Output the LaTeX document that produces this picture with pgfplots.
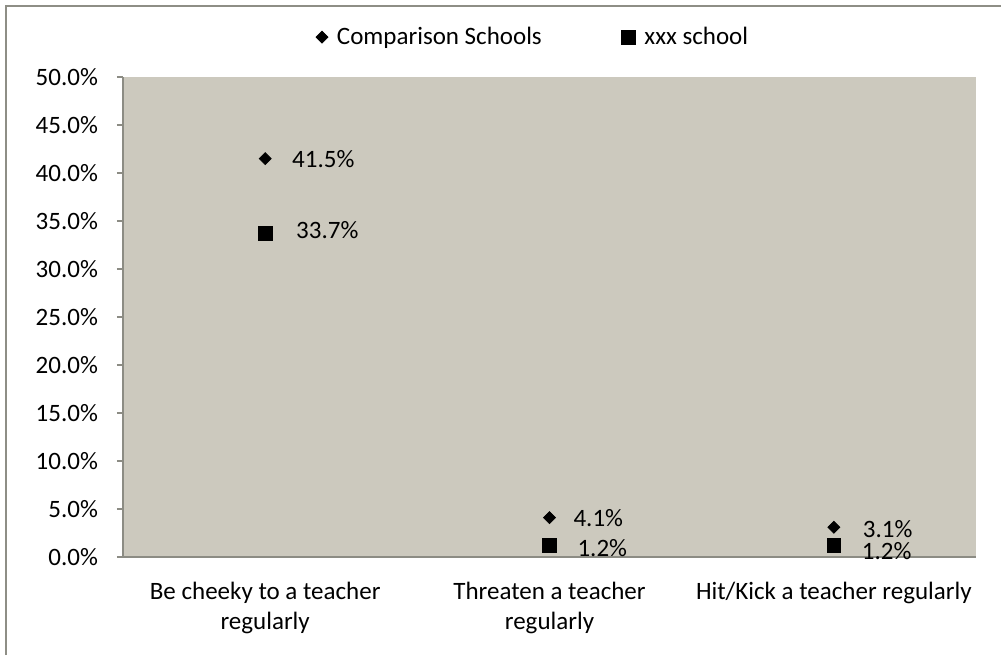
\documentclass[border=0pt]{standalone}
\usepackage{fontspec}
\setmainfont{Carlito}
\usepackage{pgfplots}
\usepackage{pgfplotstable}
\pgfplotsset{compat=1.18}
\definecolor{plotbg}{HTML}{CCC9BE}
\definecolor{axisgray}{HTML}{8C8C84}
\definecolor{bordergray}{HTML}{8E8E86}
\pgfplotstableread{
x y label dy dx
0 41.5 41.5\% 0 10
1 4.1 4.1\% 0 8.5
2 3.1 3.1\% -1 11
}\comparison
\pgfplotstableread{
x y label dy dx
0 33.7 33.7\% 1.5 12
1 1.2 1.2\% -1.5 10.5
2 1.2 1.2\% -3 10.5
}\xxxschool
\begin{document}
\begin{tikzpicture}[font=\fontsize{12.5}{15}\selectfont]
\path[use as bounding box] (-61.5pt,-49pt) rectangle (439pt,278.5pt);
\draw[bordergray, line width=1pt] (-58.5pt,-49pt) -- (-58.5pt,275.5pt) -- (439pt,275.5pt);
\begin{axis}[
  at={(0pt,0pt)}, anchor=south west,
  scale only axis, width=426.5pt, height=240pt,
  xmin=-0.5, xmax=2.5, ymin=0, ymax=50,
  clip=false,
  axis background/.style={fill=plotbg},
  axis x line*=bottom, axis y line*=left,
  axis line style={draw=axisgray, line width=0.6pt, -},
  ytick={0,5,...,50},
  yticklabel={\pgfmathprintnumber[fixed,fixed zerofill,precision=1]{\tick}\%},
  /pgf/number format/assume math mode=true,
  tick align=outside,
  major tick length=3pt,
  tick style={draw=axisgray, line width=0.6pt},
  y tick label style={xshift=-6pt},
  xtick={0,1,2},
  x tick style={draw=none},
  xticklabels={{Be cheeky to a teacher\\regularly},{Threaten a teacher\\regularly},{Hit/Kick a teacher regularly}},
  x tick label style={align=center, yshift=-6pt},
  extra x ticks={-0.5,0.5,1.5,2.5},
  extra x tick labels={},
  extra x tick style={tick style={draw=axisgray, line width=0.6pt}, major tick length=4pt},
  legend style={at={(0.482,1.083)}, anchor=center, draw=none, fill=none,
    legend columns=2,
    /tikz/every odd column/.append style={column sep=2.5pt},
    /tikz/every even column/.append style={column sep=38pt},
    font=\fontsize{12.5}{15}\selectfont},
]
\addplot[only marks, mark=square*, mark size=2.1pt, mark options={rotate=45}, black,
  nodes near coords, point meta=explicit symbolic,
  visualization depends on=\thisrow{dy} \as \labeldy,
  visualization depends on=\thisrow{dx} \as \labeldx,
  nodes near coords style={anchor=west, xshift=\labeldx pt, yshift=\labeldy pt, font=\fontsize{12.5}{15}\selectfont}]
  table[x=x, y=y, meta=label] {\comparison};
\addlegendentry{Comparison Schools}
\addplot[only marks, mark=square*, mark size=3.4pt, black,
  nodes near coords, point meta=explicit symbolic,
  visualization depends on=\thisrow{dy} \as \labeldy,
  visualization depends on=\thisrow{dx} \as \labeldx,
  nodes near coords style={anchor=west, xshift=\labeldx pt, yshift=\labeldy pt, font=\fontsize{12.5}{15}\selectfont}]
  table[x=x, y=y, meta=label] {\xxxschool};
\addlegendentry{xxx school}
\end{axis}
\end{tikzpicture}
\end{document}
